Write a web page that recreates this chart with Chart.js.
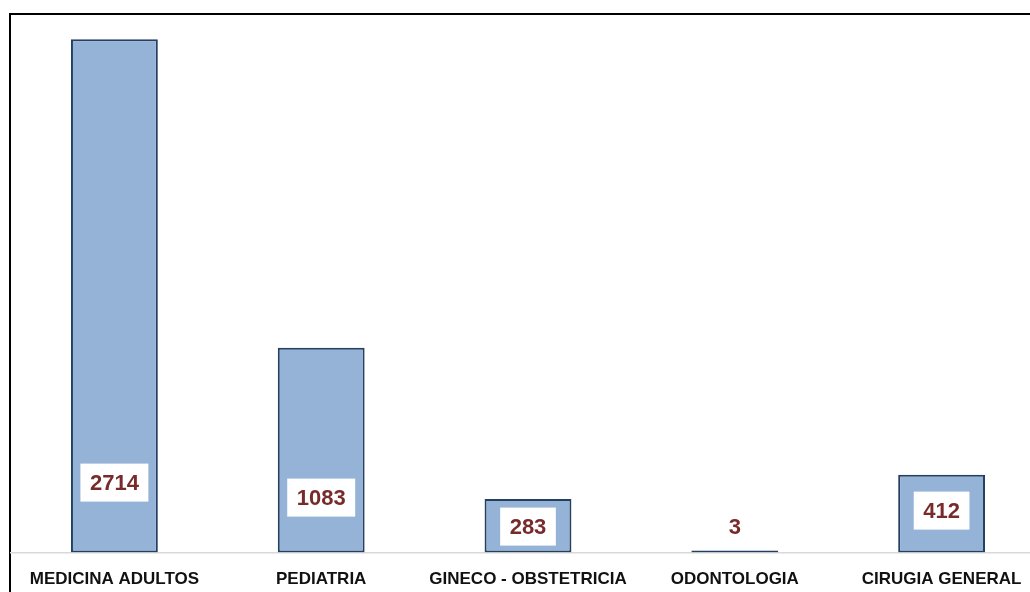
<!DOCTYPE html>
<html>
<head>
<meta charset="utf-8">
<script src="https://cdn.jsdelivr.net/npm/chart.js@4.4.1/dist/chart.umd.min.js"></script>
<style>
  html, body { margin: 0; padding: 0; background: #fff; overflow: hidden; }
  #wrap { position: relative; width: 1030px; height: 592px; overflow: hidden; }
  #frame { position: absolute; left: 9px; top: 13px; width: 1100px; height: 700px; border: 2px solid #000; box-sizing: border-box; }
  #box { position: absolute; left: 0; top: 0; width: 1060px; height: 609px; }
</style>
</head>
<body>
<div id="wrap">
  <div id="frame"></div>
  <div id="box"><canvas id="myChart"></canvas></div>
</div>
<script>
// categories and values
const categories = ['MEDICINA ADULTOS', 'PEDIATRIA', 'GINECO - OBSTETRICIA', 'ODONTOLOGIA', 'CIRUGIA GENERAL'];
const values = [2714, 1083, 283, 3, 412];

// how high each value label sits above the axis line (px)
const labelLift = [70, 55, 26, 26, 42];

const valueBoxes = {
    id: 'valueBoxes',
    afterDatasetsDraw(chart) {
        const ctx = chart.ctx;
        const meta = chart.getDatasetMeta(0);
        const base = chart.scales.y.getPixelForValue(0);
        ctx.save();
        ctx.font = 'bold 22px "Liberation Sans", Arial, sans-serif';
        ctx.textAlign = 'center';
        ctx.textBaseline = 'middle';
        meta.data.forEach((bar, i) => {
            const text = String(values[i]);
            const w = ctx.measureText(text).width + 19;
            const h = 38;
            const cy = base - labelLift[i];
            ctx.fillStyle = '#ffffff';
            ctx.fillRect(bar.x - w / 2, cy - h / 2, w, h);
            ctx.fillStyle = '#772b2b';
            ctx.fillText(text, bar.x, cy + 1);
        });
        ctx.restore();
    }
};

const ctx = document.getElementById('myChart').getContext('2d');
const chart = new Chart(ctx, {
    type: 'bar',
    data: {
        labels: categories,
        datasets: [{
            data: values,
            backgroundColor: '#95b3d7',
            borderColor: '#243f60',
            borderWidth: 2,
            borderSkipped: false,
            minBarLength: 2,
            barPercentage: 0.42,
            categoryPercentage: 1
        }]
    },
    options: {
        responsive: true,
        maintainAspectRatio: false,
        animation: false,
        layout: { padding: { left: 11, right: 15, top: 23, bottom: 2 } },
        plugins: { legend: { display: false }, tooltip: { enabled: false } },
        scales: {
            x: {
                grid: { display: false, drawTicks: false },
                border: { display: true, color: '#d9d9d9', width: 1.5 },
                ticks: {
                    color: '#111',
                    padding: 17,
                    maxRotation: 0,
                    autoSkip: false,
                    font: { family: '"Liberation Sans", Arial, sans-serif', size: 17, weight: 'bold' }
                }
            },
            y: {
                display: false,
                min: 0,
                max: 2800
            }
        }
    },
    plugins: [valueBoxes]
});
</script>
</body>
</html>
